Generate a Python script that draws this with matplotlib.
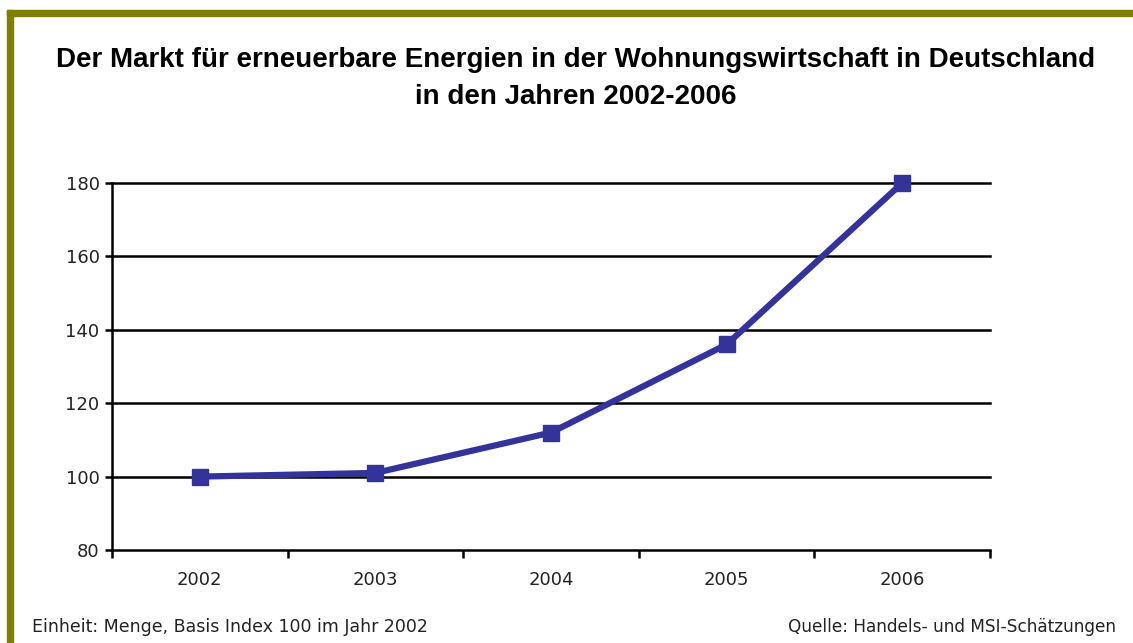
import matplotlib.pyplot as plt
from matplotlib.patches import Rectangle

# data
years = ["2002", "2003", "2004", "2005", "2006"]
index_values = [100, 101, 112, 136, 180]
y_ticks = [80, 100, 120, 140, 160, 180]

W, H = 1133, 643
fig = plt.figure(figsize=(W / 100, H / 100), dpi=100)

# olive frame (top and left edges)
olive = "#808000"
fig.patches.append(Rectangle((7 / W, 0), 5.5 / W, 1 - 10 / H, transform=fig.transFigure,
                             color=olive, zorder=0))
fig.patches.append(Rectangle((7 / W, 1 - 15.5 / H), 1, 5.5 / H, transform=fig.transFigure,
                             color=olive, zorder=0))

ax = fig.add_axes([112 / W, 93 / H, 878 / W, 367 / H])

x = list(range(len(years)))
ax.plot(x, index_values, color="#333399", lw=4.5, marker="s", markersize=11,
        solid_joinstyle="miter", zorder=3, clip_on=False)

ax.set_xlim(-0.5, len(years) - 0.5)
ax.set_ylim(80, 180)
ax.set_yticks(y_ticks)
for t in y_ticks[1:]:
    ax.axhline(t, color="black", lw=1.8, zorder=1, clip_on=False)

ax.set_xticks([i - 0.5 for i in range(len(years) + 1)])
ax.set_xticklabels([])
ax.set_xticks(x, minor=True)
ax.set_xticklabels(years, minor=True)
ax.tick_params(axis="x", which="major", direction="out", length=6, width=1.8, color="black")
ax.tick_params(axis="x", which="minor", length=0, pad=15, labelsize=13)
ax.tick_params(axis="y", direction="out", length=5, width=1.8, labelsize=13, pad=4)

for side in ["top", "right"]:
    ax.spines[side].set_visible(False)
ax.spines["left"].set_linewidth(1.8)
ax.spines["bottom"].set_linewidth(1.8)

for lbl in ax.get_xticklabels(minor=True) + ax.get_yticklabels():
    lbl.set_fontfamily("DejaVu Sans")
    lbl.set_color("#222222")

fig.text(576 / W, 1 - 60 / H, "Der Markt für erneuerbare Energien in der Wohnungswirtschaft in Deutschland",
         ha="center", va="center", fontsize=20, fontweight="bold", fontfamily="Liberation Sans")
fig.text(576 / W, 1 - 97 / H, "in den Jahren 2002-2006",
         ha="center", va="center", fontsize=20, fontweight="bold", fontfamily="Liberation Sans")

fig.text(32 / W, 1 - 627 / H, "Einheit: Menge, Basis Index 100 im Jahr 2002",
         ha="left", va="center", fontsize=12.5, fontfamily="DejaVu Sans", color="#222222")
fig.text(1116 / W, 1 - 627 / H, "Quelle: Handels- und MSI-Schätzungen",
         ha="right", va="center", fontsize=12.2, fontfamily="DejaVu Sans", color="#222222")

fig.savefig("out.png", dpi=100)
